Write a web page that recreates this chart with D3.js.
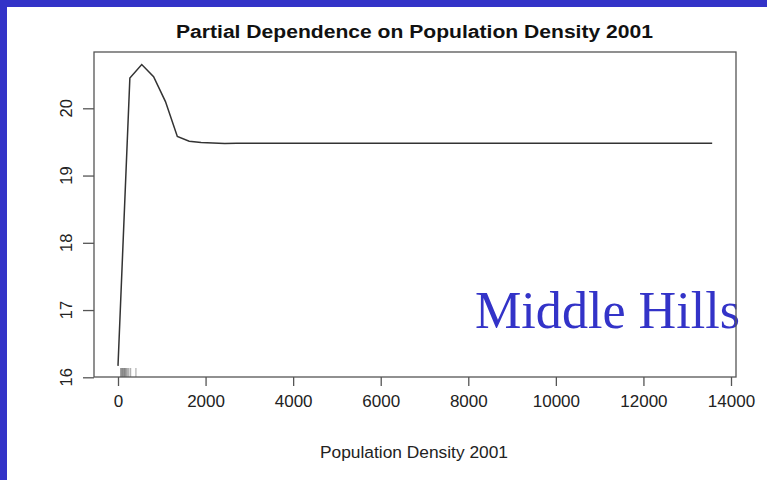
<!DOCTYPE html>
<html>
<head>
<meta charset="utf-8">
<script src="https://cdn.jsdelivr.net/npm/d3@7"></script>
<style>
  html, body { margin: 0; padding: 0; background: #fff; }
  svg { display: block; }
</style>
</head>
<body>
<svg id="chart"></svg>
<script>
// partial dependence curve
const density = [0, 271, 542, 813, 1084, 1355, 1626, 1897, 2168, 2439, 2710, 5000, 8000, 11000, 13570];
const yhat = [16.17, 20.45, 20.65, 20.47, 20.10, 19.58, 19.51, 19.49, 19.485, 19.475, 19.48, 19.48, 19.48, 19.48, 19.48];
// rug of observed densities
const rugValues = [60, 75, 90, 105, 120, 135, 150, 165, 180, 200, 225, 250, 290, 410];
const xTicks = [0, 2000, 4000, 6000, 8000, 10000, 12000, 14000];
const yTicks = [16, 17, 18, 19, 20];

const width = 767;
const height = 480;
const blue = "#3333c8";

const svg = d3.select("#chart")
    .attr("width", width)
    .attr("height", height)
    .attr("font-family", "Liberation Sans, Arial, sans-serif");

// blue frame on left and top
svg.append("rect").attr("x", 0).attr("y", 0).attr("width", width).attr("height", 7).attr("fill", blue);
svg.append("rect").attr("x", 0).attr("y", 0).attr("width", 7).attr("height", height).attr("fill", blue);

const box = {left: 94, top: 52, right: 736, bottom: 377};

const x = d3.scaleLinear().domain([0, 14000]).range([118, 731]);
const y = d3.scaleLinear().domain([16, 20]).range([377.3, 108.3]);

// title (the original picture is a bit stretched sideways)
svg.append("text")
    .attr("x", 176)
    .attr("y", 37.5)
    .attr("font-size", 18)
    .attr("font-weight", "bold")
    .attr("fill", "#111")
    .attr("textLength", 477)
    .attr("lengthAdjust", "spacingAndGlyphs")
    .text("Partial Dependence on Population Density 2001");

// x axis
const xAxis = svg.append("g")
    .attr("transform", `translate(0,${box.bottom})`)
    .call(d3.axisBottom(x).tickValues(xTicks).tickSize(9).tickPadding(9).tickFormat(d3.format("d")));
xAxis.select(".domain").remove();
xAxis.selectAll("line").attr("stroke", "#555").attr("stroke-width", 1.3);
xAxis.selectAll("text").attr("font-size", 17).attr("fill", "#222").attr("font-family", "Liberation Sans, Arial, sans-serif");

// y axis
const yAxis = svg.append("g")
    .attr("transform", `translate(${box.left},0)`)
    .call(d3.axisLeft(y).tickValues(yTicks).tickSize(11).tickFormat(d3.format("d")));
yAxis.select(".domain").remove();
yAxis.selectAll("line").attr("stroke", "#555").attr("stroke-width", 1.3);
yAxis.selectAll("text").remove();
svg.selectAll(".ylab")
    .data(yTicks)
    .enter().append("text")
    .attr("transform", d => `translate(72,${y(d)}) rotate(-90)`)
    .attr("text-anchor", "middle")
    .attr("font-size", 16.5)
    .attr("fill", "#222")
    .text(d => d);

// x axis title
svg.append("text")
    .attr("x", 320)
    .attr("y", 458.3)
    .attr("font-size", 16.3)
    .attr("fill", "#222")
    .attr("textLength", 188)
    .attr("lengthAdjust", "spacingAndGlyphs")
    .text("Population Density 2001");

// region label
svg.append("text")
    .attr("x", 475)
    .attr("y", 328.3)
    .attr("font-family", "Liberation Serif, Times New Roman, serif")
    .attr("font-size", 52.5)
    .attr("fill", blue)
    .attr("textLength", 265)
    .attr("lengthAdjust", "spacingAndGlyphs")
    .text("Middle Hills");

// rug
svg.selectAll(".rug")
    .data(rugValues)
    .enter().append("line")
    .attr("x1", d => x(d)).attr("x2", d => x(d))
    .attr("y1", box.bottom).attr("y2", box.bottom - 9)
    .attr("stroke", "#444")
    .attr("stroke-opacity", 0.5)
    .attr("stroke-width", 1);

// curve
const line = d3.line()
    .x((d, i) => x(density[i]))
    .y(d => y(d));
svg.append("path")
    .datum(yhat)
    .attr("d", line)
    .attr("fill", "none")
    .attr("stroke", "#333")
    .attr("stroke-width", 1.5);

// plot box
svg.append("rect")
    .attr("x", box.left).attr("y", box.top)
    .attr("width", box.right - box.left).attr("height", box.bottom - box.top)
    .attr("fill", "none")
    .attr("stroke", "#555")
    .attr("stroke-width", 1.3);
</script>
</body>
</html>
